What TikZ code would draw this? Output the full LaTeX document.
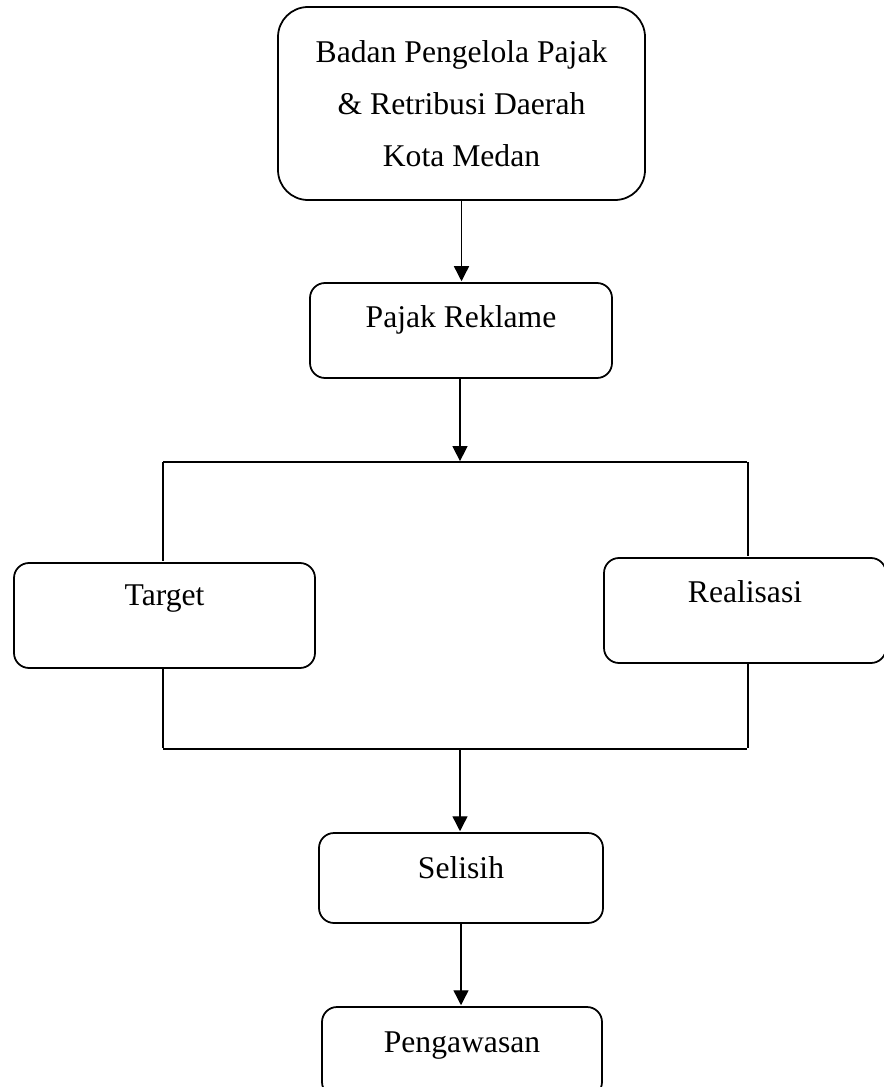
\documentclass[tikz,border=0pt]{standalone}
\usepackage{fontspec}
\setmainfont{Liberation Serif}
\usepackage{tikz}
\usetikzlibrary{arrows.meta}
\usetikzlibrary{positioning}

\begin{document}
\begin{tikzpicture}[>={Triangle[length=3mm,width=3mm]},shorten >=0.5pt,line width=0.8pt,
    box node/.style={rectangle,draw,line width=1pt,rounded corners=0.3cm,font=\fontsize{18}{29.6}\selectfont,align=center,text height=0.45cm},
    join line/.style={-,line width=0.8pt}]
    \useasboundingbox (0,0) rectangle (17.68,-21.74);
    \begin{scope}
      \node[box node,rounded corners=0.6cm,minimum width=7.34cm,minimum height=3.86cm,text height=] (bppd) at (9.23,-2.07) {Badan Pengelola Pajak\\\& Retribusi Daerah\\Kota Medan};
      \node[box node,minimum width=6.04cm,minimum height=1.9cm,text depth=0.57cm] (reklame) at (9.22,-6.61) {Pajak Reklame};
      \node[box node,minimum width=6.02cm,minimum height=2.1cm,text depth=0.85cm] (target) at (3.29,-12.31) {Target};
      \node[box node,minimum width=5.64cm,minimum height=2.1cm,text depth=0.77cm] (realisasi) at (14.9,-12.21) {Realisasi};
      \node[box node,minimum width=5.68cm,minimum height=1.8cm,text depth=0.43cm] (selisih) at (9.22,-17.56) {Selisih};
      \node[box node,minimum width=5.6cm,minimum height=1.8cm,text depth=0.43cm] (awas) at (9.24,-21.04) {Pengawasan};

      % cabang ke target dan realisasi
      \coordinate (split) at (9.2,-9.24);
      \coordinate (splitL) at (3.26,-9.24);
      \coordinate (splitR) at (14.96,-9.24);
      \coordinate (merge) at (9.2,-14.98);
      \coordinate (mergeL) at (3.26,-14.98);
      \coordinate (mergeR) at (14.96,-14.98);

      \path[->] (bppd.south) edge (bppd.south |- reklame.north);
      \path[->] (reklame.south -| split) edge (split);
      \path[join line] (splitL) edge (splitR);
      \path[join line] (splitL) edge (splitL |- target.north);
      \path[join line] (splitR) edge (splitR |- realisasi.north);
      \path[join line] (mergeL |- target.south) edge (mergeL);
      \path[join line] (mergeR |- realisasi.south) edge (mergeR);
      \path[join line] (mergeL) edge (mergeR);
      \path[->] (merge) edge (merge |- selisih.north);
      \path[->] (selisih.south) edge (selisih.south |- awas.north);
    \end{scope}
\end{tikzpicture}
\end{document}
